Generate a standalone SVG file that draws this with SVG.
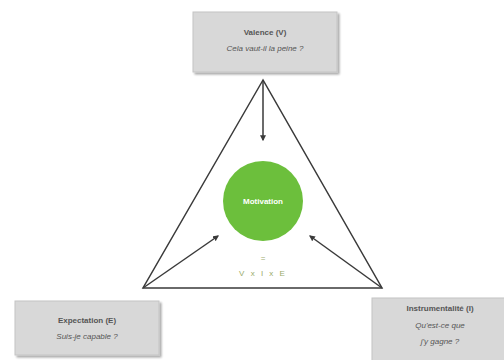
<svg xmlns="http://www.w3.org/2000/svg" width="504" height="360" viewBox="0 0 504 360">
<defs>
<marker id="ah" viewBox="0 0 10 10" refX="8" refY="5" markerWidth="4" markerHeight="4" orient="auto">
<path d="M0,0 L10,5 L0,10 z" fill="#3a3a3a"/>
</marker>
<filter id="sh" x="-10%" y="-10%" width="130%" height="130%">
<feGaussianBlur in="SourceAlpha" stdDeviation="1.2"/>
<feOffset dx="2" dy="2" result="b"/>
<feComponentTransfer><feFuncA type="linear" slope="0.35"/></feComponentTransfer>
<feMerge><feMergeNode/><feMergeNode in="SourceGraphic"/></feMerge>
</filter>
</defs>
<style>
.box{fill:#d8d8d8;stroke:#c4c4c4;stroke-width:1;filter:url(#sh)}
.t{font-family:"Liberation Sans",Arial,sans-serif;font-size:8px;fill:#555;text-anchor:middle}
.b{font-weight:bold}
.i{font-style:italic}
.ln{stroke:#3a3a3a;stroke-width:1.5;fill:none}
</style>
<rect width="504" height="360" fill="#ffffff"/>
<g id="connectors">
<polygon class="ln" points="263,80 143,288 382,288"/>
<line class="ln" x1="263" y1="80" x2="263" y2="140" marker-end="url(#ah)"/>
<line class="ln" x1="143" y1="288" x2="218" y2="236" marker-end="url(#ah)"/>
<line class="ln" x1="382" y1="288" x2="310" y2="236" marker-end="url(#ah)"/>
</g>
<g id="valence">
<rect class="box" x="193" y="12" width="144" height="60"/>
<text class="t b" x="265" y="35">Valence (V)</text>
<text class="t i" x="265" y="51">Cela vaut-il la peine ?</text>
</g>
<g id="expectation">
<rect class="box" x="15" y="301" width="144" height="54"/>
<text class="t b" x="87" y="323">Expectation (E)</text>
<text class="t i" x="87" y="339">Suis-je capable ?</text>
</g>
<g id="instrumentalite">
<rect class="box" x="372" y="298" width="134" height="64"/>
<text class="t b" x="440" y="311">Instrumentalité (I)</text>
<text class="t i" x="440" y="328">Qu'est-ce que</text>
<text class="t i" x="440" y="344">j'y gagne ?</text>
</g>
<g id="motivation">
<circle cx="263" cy="201" r="40" fill="#6cbf3c"/>
<text class="t b" x="263" y="204" style="fill:#ffffff">Motivation</text>
<text class="t" x="263" y="261" style="fill:#9aab6a">=</text>
<text class="t" x="263" y="276" style="fill:#9aab6a;letter-spacing:2px">V x I x E</text>
</g>
</svg>
